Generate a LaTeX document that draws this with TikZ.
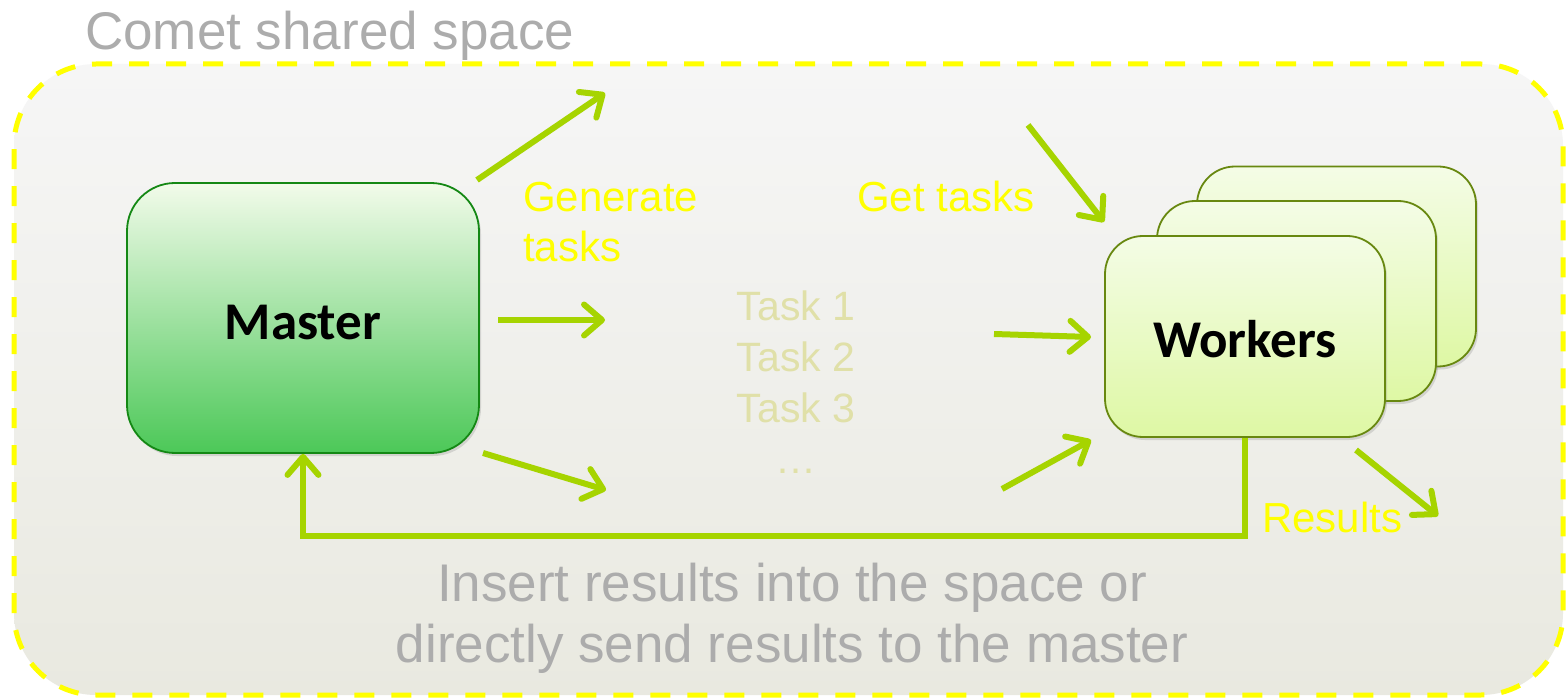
\documentclass[tikz,border=0pt]{standalone}
\usepackage{fontspec}
\setmainfont{Liberation Sans}
\newfontfamily\calibrifont{Carlito}
\usetikzlibrary{arrows.meta,shadows}

\definecolor{arrowgreen}{RGB}{166,212,0}
\definecolor{dashyellow}{RGB}{255,255,0}
\definecolor{labelyellow}{RGB}{255,255,0}
\definecolor{titlegray}{RGB}{172,172,172}
\definecolor{taskcolor}{RGB}{224,224,168}
\definecolor{bgtop}{RGB}{246,246,246}
\definecolor{bgbot}{RGB}{233,233,224}
\definecolor{mastertop}{RGB}{242,251,234}
\definecolor{masterbot}{RGB}{76,200,88}
\definecolor{masterline}{RGB}{20,136,20}
\definecolor{workertop}{RGB}{244,252,230}
\definecolor{workerbot}{RGB}{222,248,164}
\definecolor{workerline}{RGB}{104,136,16}

\tikzset{
  spacebox/.style={draw=dashyellow, line width=5pt, dash pattern=on 20pt off 17pt,
    rounded corners=82pt, top color=bgtop, bottom color=bgbot, inner sep=0pt},
  masterbox/.style={draw=masterline, line width=1.8pt, rounded corners=48pt,
    top color=mastertop, bottom color=masterbot,
    drop shadow={opacity=0.25, shadow xshift=2pt, shadow yshift=-3pt},
    font=\calibrifont\bfseries\fontsize{53}{60}\selectfont, text height=43pt, text depth=0pt},
  workerbox/.style={draw=workerline, line width=1.8pt, rounded corners=38pt,
    top color=workertop, bottom color=workerbot,
    drop shadow={opacity=0.25, shadow xshift=2pt, shadow yshift=-3pt},
    minimum width=279pt, minimum height=200pt,
    font=\calibrifont\bfseries\fontsize{53}{60}\selectfont, text height=43pt, text depth=0pt},
  conn/.style={draw=arrowgreen, line width=6pt,
    -{Straight Barb[length=18pt, width=31pt, round]}},
  fback/.style={draw=arrowgreen, line width=6pt,
    -{Straight Barb[length=18pt, width=31pt, round]}},
  lbl/.style={inner sep=0pt, text=labelyellow, font=\fontsize{42}{50}\selectfont},
  graytext/.style={inner sep=0pt, text=titlegray, font=\fontsize{53}{61}\selectfont},
  tasktext/.style={inner sep=0pt, text=taskcolor, font=\fontsize{41}{51}\selectfont, align=center},
}

\begin{document}
\begin{tikzpicture}[x=1pt, y=-1pt]
\useasboundingbox[fill=white] (0,0) rectangle (1568,700);

% shared space
\node[spacebox, minimum width=1549pt, minimum height=631pt] (space) at (788.5,379.5) {};
\node[graytext, anchor=base west] (title) at (85,50) {Comet shared space};

% master
\node[masterbox, minimum width=352pt, minimum height=270pt] (master) at (303,318) {Master};

% workers (stacked)
\node[workerbox] (w3) at (1336.5,266.5) {};
\node[workerbox] (w2) at (1296.5,301) {};
\node[workerbox, minimum width=280pt, minimum height=201pt] (workers) at (1245,336.5) {Workers};

% task list
\node[tasktext, anchor=north] (tasks) at (796,291) {Task 1\\Task 2\\Task 3\\…};

% labels
\node[lbl, anchor=north west, align=left] (gen) at (523,182) {Generate\\tasks};
\node[lbl, anchor=base west] (get) at (857,212) {Get tasks};
\node[lbl, anchor=base west] (res) at (1262,532) {Results};
\node[graytext, anchor=base, align=center] (note) at (792,662) {Insert results into the space or\\directly send results to the master};

% arrow end points
\coordinate (a1s) at (477,180);  \coordinate (a1e) at (605,93);
\coordinate (a2s) at (498,320);  \coordinate (a2e) at (605,320);
\coordinate (a3s) at (483,453);  \coordinate (a3e) at (606,490);
\coordinate (a4s) at (1028,125); \coordinate (a4e) at (1104,222);
\coordinate (a5s) at (994,334);  \coordinate (a5e) at (1091,337);
\coordinate (a6s) at (1002,489); \coordinate (a6e) at (1091,440);
\coordinate (a7s) at (1356,450); \coordinate (a7e) at (1438,516);

\draw[conn] (a1s) -- (a1e);
\draw[conn] (a2s) -- (a2e);
\draw[conn] (a3s) -- (a3e);
\draw[conn] (a4s) -- (a4e);
\draw[conn] (a5s) -- (a5e);
\draw[conn] (a6s) -- (a6e);
\draw[conn] (a7s) -- (a7e);

% feedback
\draw[fback] (workers.south) -- ++(0,98) -| (master.south);
\end{tikzpicture}
\end{document}
